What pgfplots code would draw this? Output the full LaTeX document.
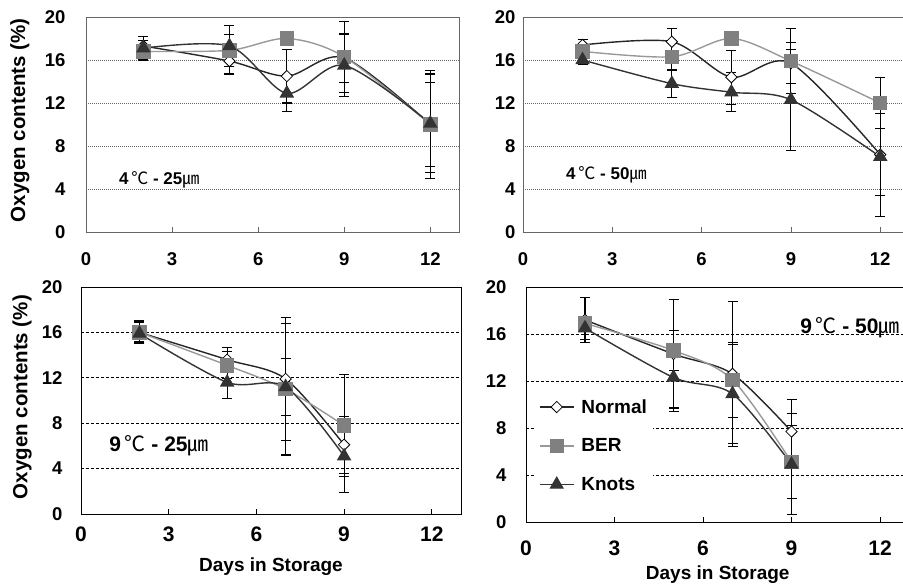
\documentclass[border=0pt]{standalone}
\usepackage{fontspec}
\setmainfont{Liberation Sans}
\newfontfamily\cjk{Noto Sans CJK KR}
\usepackage{pgfplots}
\pgfplotsset{compat=1.18}

\newcommand{\fs}[1]{\fontsize{#1}{#1}\selectfont}
\newcommand{\cond}[2]{#1\,{\cjk\mdseries ℃}\ - #2{\cjk\mdseries ㎛}}

\pgfplotsset{
  panel/.style={
    scale only axis, xmin=0, xmax=13, ymin=0, ymax=20,
    xtick={0,3,...,12}, ytick={0,4,...,20},
    tick align=inside, xtick pos=left, ytick style={draw=none},
    major tick length=5pt, ymajorgrids, clip=false,
    /pgf/number format/assume math mode=true,
  },
  toppanel/.style={panel,
    axis line style={black!60, line width=0.8pt}, xtick style={black!60, line width=0.8pt},
    major grid style={black!60, line width=0.6pt, dash pattern=on 1pt off 1pt},
    xticklabel style={font=\bfseries\fs{18.5}, yshift=-17pt},
    yticklabel style={font=\bfseries\fs{18.5}, xshift=-17pt},
  },
  botpanel/.style={panel,
    axis line style={black, line width=0.8pt}, xtick style={black, line width=0.8pt},
    major grid style={black, line width=0.8pt, dash pattern=on 3pt off 2pt},
    xticklabel style={font=\bfseries\fs{21}, yshift=-9pt},
    yticklabel style={font=\bfseries\fs{18.5}, xshift=-15pt},
  },
  ebar/.style={error bars/.cd, y dir=both, y explicit,
    error bar style={black, line width=1.1pt},
    error mark options={rotate=90, mark size=5pt, black, line width=1.1pt}},
  normal/.style={black!85, line width=1.4pt, smooth, mark=square*, mark size=4pt,
    mark options={rotate=45, fill=white, draw=black, line width=0.8pt}, ebar},
  ber/.style={black!40, line width=1.4pt, smooth, mark=square*, mark size=6.5pt,
    mark options={fill=black!50, draw=black!50}, ebar},
  knots/.style={black!80, line width=1.4pt, smooth, mark=triangle*, mark size=7pt,
    mark options={fill=black!80, draw=black!80}, ebar},
}

\begin{document}
\begin{tikzpicture}

% 4C - 25um
\begin{axis}[toppanel, at={(86pt,354pt)}, anchor=south west, width=373pt, height=215pt,
  ylabel={Oxygen contents (\%)},
  ylabel style={at={(axis description cs:-0.177,0.52)}, anchor=center, font=\bfseries\fs{20.5}}]
\addplot[normal] table[x=x, y=y, y error=e] {
x y e
2 17.3 0.5
5 15.9 1.2
7 14.5 2.5
9 16.2 2.3
12 10.0 5.0
};
\addplot[ber] table[x=x, y=y, y error=e] {
x y e
2 16.8 0.5
5 16.9 1.5
7 18.0 0.3
9 16.3 3.3
12 10.0 3.9
};
\addplot[knots] table[x=x, y=y, y error=e] {
x y e
2 17.1 1.1
5 17.3 1.9
7 12.9 1.7
9 15.5 2.9
12 10.1 4.6
};
\node[font=\bfseries\fs{17}] at (axis cs:2.55,4.84) {\cond{4}{25}};
\end{axis}

% 4C - 50um
\begin{axis}[toppanel, at={(523pt,354pt)}, anchor=south west, width=387pt, height=215pt,
  yticklabel style={xshift=13pt}]
\addplot[normal] table[x=x, y=y, y error=e] {
x y e
2 17.4 0.5
5 17.7 1.2
7 14.4 2.5
9 15.7 1.9
12 7.2 3.8
};
\addplot[ber] table[x=x, y=y, y error=e] {
x y e
2 16.8 0.5
5 16.3 1.3
7 18.0 0.3
9 15.9 3.0
12 12.0 2.4
};
\addplot[knots] table[x=x, y=y, y error=e] {
x y e
2 16.0 0.4
5 13.8 1.3
7 13.0 1.8
9 12.3 4.7
12 7.0 5.6
};
\node[font=\bfseries\fs{17}] at (axis cs:2.8,5.3) {\cond{4}{50}};
\end{axis}

% 9C - 25um
\begin{axis}[botpanel, at={(81pt,72pt)}, anchor=south west, width=380pt, height=227pt,
  ylabel={Oxygen contents (\%)},
  ylabel style={at={(axis description cs:-0.155,0.515)}, anchor=center, font=\bfseries\fs{20.5}},
  xlabel={Days in Storage},
  xlabel style={at={(axis description cs:0.5,-0.233)}, anchor=center, font=\bfseries\fs{19}}]
\addplot[normal] table[x=x, y=y, y error=e] {
x y e
2 16.0 0.9
5 13.6 1.1
7 11.9 5.4
9 6.1 2.5
};
\addplot[ber] table[x=x, y=y, y error=e] {
x y e
2 16.0 1.0
5 13.1 1.2
7 11.0 5.8
9 7.8 4.5
};
\addplot[knots] table[x=x, y=y, y error=e] {
x y e
2 15.9 0.7
5 11.6 1.4
7 11.2 2.5
9 5.1 3.2
};
\node[font=\bfseries\fs{21}] at (axis cs:2.67,6.0) {\cond{9}{25}};
\end{axis}

% 9C - 50um
\begin{axis}[botpanel, at={(526pt,64pt)}, anchor=south west, width=383.5pt, height=235pt,
  xticklabel style={yshift=-6pt}, yticklabel style={xshift=-1pt},
  xlabel={Days in Storage},
  xlabel style={at={(axis description cs:0.5,-0.225)}, anchor=center, font=\bfseries\fs{19}},
  legend style={at={(0.023,0.548)}, anchor=north west, draw=none, fill=white,
    font=\bfseries\fs{19}, row sep=20pt, inner xsep=4pt, inner ysep=4pt, cells={anchor=west},
    /tikz/every odd column/.append style={column sep=5pt}},
  legend image code/.code={\draw[mark repeat=2, mark phase=2, #1] plot coordinates {(0pt,0pt) (17pt,0pt) (34pt,0pt)};}]
\addplot[normal] table[x=x, y=y, y error=e] {
x y e
2 17.2 1.9
5 14.3 4.6
7 12.6 6.2
9 7.7 2.7
};
\addplot[ber] table[x=x, y=y, y error=e] {
x y e
2 16.9 0.6
5 14.6 1.7
7 12.1 3.2
9 5.1 3.1
};
\addplot[knots] table[x=x, y=y, y error=e] {
x y e
2 16.5 1.0
5 12.3 2.9
7 10.9 4.2
9 4.9 4.3
};
\legend{Normal, BER, Knots}
\node[font=\bfseries\fs{21}, anchor=base east] at (axis cs:12.78,16.05) {\cond{9}{50}};
\end{axis}

\pgfresetboundingbox
\path[use as bounding box] (0,0) rectangle (903pt,586pt);
\end{tikzpicture}
\end{document}
